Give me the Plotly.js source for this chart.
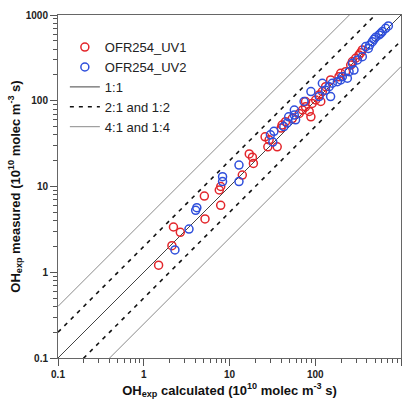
<!DOCTYPE html>
<html>
<head>
<meta charset="utf-8">
<script src="https://cdn.plot.ly/plotly-3.0.1.min.js"></script>
<style>html,body{margin:0;padding:0;background:#fff;}#chart{width:412px;height:401px;}</style>
</head>
<body>
<div id="chart"></div>
<script>
// OFR254_UV1 (red) : calculated vs measured OHexp (10^10 molec m^-3 s)
const uv1Calc = [1.49, 2.13, 2.22, 2.67, 5.18, 5.09, 7.89, 7.6, 7.9, 14.1, 17, 18.5, 19, 26, 29, 28, 36, 40, 41, 45, 54, 65, 71, 77, 85, 89, 77, 92, 101, 111, 116, 121, 132, 151, 189, 198, 226, 259, 271, 296, 324, 339, 354];
const uv1Meas = [1.21, 2.04, 3.37, 2.92, 4.18, 7.74, 6.04, 9.1, 10, 13.6, 24, 22, 18.6, 38, 35, 29, 29, 48, 52, 57, 62, 71, 78, 85, 75, 65, 98, 93, 102, 117, 98, 128, 146, 175, 191, 209, 218, 261, 286, 313, 342, 364, 391];
// OFR254_UV2 (blue)
const uv2Calc = [2.31, 3.37, 4.03, 4.16, 8.3, 8.3, 12.9, 12.9, 32, 30, 33, 43, 47, 59, 49, 57, 57, 74, 89, 111, 151, 121, 132, 145, 158, 181, 198, 207, 237, 248, 283, 271, 310, 354, 387, 416, 432, 464, 484, 507, 555, 580, 606, 662, 712];
const uv2Meas = [1.82, 3.19, 5.27, 5.66, 11.4, 13.0, 11.4, 17.8, 33, 40, 44, 50, 55, 60, 65, 68, 78, 98, 128, 112, 112, 160, 133, 146, 160, 167, 175, 191, 183, 218, 228, 273, 299, 327, 428, 408, 447, 489, 520, 550, 585, 611, 640, 700, 745];
// reference ratio lines
const ratioOne = [1];
const ratioTwo = [2, 0.5];
const ratioFour = [4, 0.25];
const axisRange = [0.1, 1000];

function ratioTrace(r, name, color, width, dash, show, group, rank) {
  return {
    x: axisRange, y: axisRange.map(v => v * r),
    mode: 'lines', name: name, legendgroup: group, showlegend: show, legendrank: rank,
    line: {color: color, width: width, dash: dash}, hoverinfo: 'skip', cliponaxis: true
  };
}

const traces = [];
ratioFour.forEach((r, i) => traces.push(ratioTrace(r, '4:1 and 1:4', '#8a8a8a', 1, 'solid', i === 0, 'g4', 5)));
ratioTwo.forEach((r, i) => traces.push(ratioTrace(r, '2:1 and 1:2', '#111111', 1.6, '4px,5px', i === 0, 'g2', 4)));
ratioOne.forEach((r, i) => traces.push(ratioTrace(r, '1:1', '#444444', 1, 'solid', true, 'g1', 3)));

traces.push({
  x: uv1Calc, y: uv1Meas, mode: 'markers', name: 'OFR254_UV1', legendrank: 1,
  marker: {symbol: 'circle-open', size: 8, color: '#e3262b', line: {width: 1.5, color: '#e3262b'}}
});
traces.push({
  x: uv2Calc, y: uv2Meas, mode: 'markers', name: 'OFR254_UV2', legendrank: 2,
  marker: {symbol: 'circle-open', size: 8, color: '#2f4fdc', line: {width: 1.5, color: '#2f4fdc'}}
});

const majorVals = [0.1, 1, 10, 100, 1000];
const majorText = ['0.1', '1', '10', '100', '1000'];
const minorVals = [];
[0.1, 1, 10, 100].forEach(d => { for (let k = 2; k <= 9; k++) minorVals.push(d * k); });

const tickFont = {family: 'Liberation Sans, Arial, sans-serif', size: 10, color: '#222', weight: 'bold'};
const titleFont = {family: 'Liberation Sans, Arial, sans-serif', size: 13, color: '#111', weight: 'bold'};

function axis(title, standoff) {
  return {
    type: 'log', range: [-1, 3], tickmode: 'array', tickvals: majorVals, ticktext: majorText,
    ticks: 'outside', ticklen: 7, tickwidth: 1, tickcolor: '#555',
    minor: {tickmode: 'array', tickvals: minorVals, ticks: 'outside', ticklen: 4, tickwidth: 1, tickcolor: '#555', showgrid: false},
    showgrid: false, zeroline: false, showline: true, linecolor: '#666', linewidth: 1, mirror: true,
    tickfont: tickFont, title: {text: title, font: titleFont, standoff: standoff}, fixedrange: true
  };
}

const layout = {
  width: 412, height: 401,
  margin: {l: 58, r: 11, t: 15, b: 43},
  paper_bgcolor: '#fff', plot_bgcolor: '#fff',
  showlegend: true,
  legend: {x: 0.02, y: 0.95, xanchor: 'left', yanchor: 'top', bgcolor: 'rgba(255,255,255,0)',
    font: {family: 'Liberation Sans, Arial, sans-serif', size: 13, color: '#222'}, tracegroupgap: 0, itemwidth: 30},
  xaxis: axis('OH<sub>exp</sub> calculated (10<sup>10</sup> molec m<sup>-3</sup> s)', 6),
  yaxis: axis('OH<sub>exp</sub> measured (10<sup>10</sup> molec m<sup>-3</sup> s)', 2)
};

Plotly.newPlot('chart', traces, layout, {staticPlot: true, displayModeBar: false});
</script>
</body>
</html>
